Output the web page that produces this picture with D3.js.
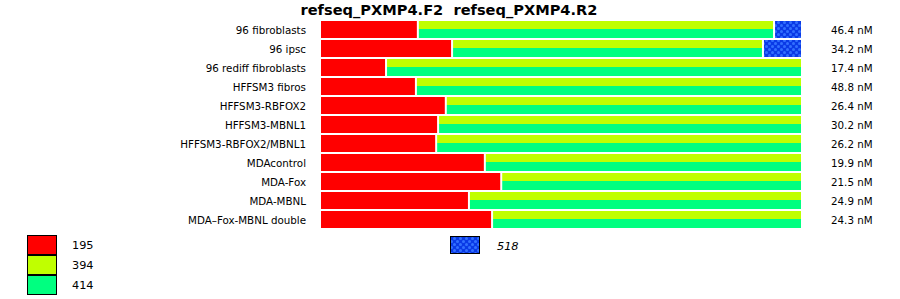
<!DOCTYPE html>
<html><head><meta charset="utf-8">
<script src="https://cdn.jsdelivr.net/npm/d3@7"></script>
<style>body{margin:0;background:#fff}svg{display:block}</style>
</head><body>
<svg id="c" width="900" height="299"></svg>
<script>
const title = "refseq_PXMP4.F2  refseq_PXMP4.R2";
const samples = ["96 fibroblasts","96 ipsc","96 rediff fibroblasts","HFFSM3 fibros","HFFSM3-RBFOX2","HFFSM3-MBNL1","HFFSM3-RBFOX2/MBNL1","MDAcontrol","MDA-Fox","MDA-MBNL","MDA\u2013Fox-MBNL double"];
// percentage of each product size per sample
const pct195 = [20.3,27.4,13.7,19.9,26.1,24.5,24.1,34.2,37.6,30.9,35.7];
const pct394_414 = [73.9,64.5,86.3,80.1,73.9,75.5,75.9,65.8,62.4,69.1,64.3];
const pct518 = [5.8,8.1,0,0,0,0,0,0,0,0,0];
const concentrations = ["46.4 nM","34.2 nM","17.4 nM","48.8 nM","26.4 nM","30.2 nM","26.2 nM","19.9 nM","21.5 nM","24.9 nM","24.3 nM"];
const legendLabels = ["195","394","414"];
const extraLabel = "518";

const svg = d3.select("#c");
const font = "DejaVu Sans, sans-serif";
const defs = svg.append("defs");
const pat = defs.append("pattern").attr("id","blue").attr("patternUnits","userSpaceOnUse")
  .attr("width",6).attr("height",6);
pat.append("rect").attr("width",6).attr("height",6).attr("fill","#0a3ae6");
pat.append("circle").attr("cx",1.5).attr("cy",1.5).attr("r",1.5).attr("fill","#3270ff");
pat.append("circle").attr("cx",4.5).attr("cy",4.5).attr("r",1.5).attr("fill","#3270ff");

svg.append("text").attr("x",449).attr("y",15).attr("text-anchor","middle")
  .style("white-space","pre")
  .attr("font-family",font).attr("font-weight","bold").attr("font-size",14.6).text(title);

const x = d3.scaleLinear().domain([0,100]).range([321,803]);
const y = d3.scaleBand().domain(samples).range([21,228]).paddingInner(2/19).paddingOuter(0);
const bh = y.bandwidth();

samples.forEach((s,i)=>{
  const g = svg.append("g");
  const top = Math.round(y(s));
  const a = pct195[i], b = pct394_414[i], c = pct518[i];
  g.append("rect").attr("x",x(0)).attr("y",top).attr("width",x(a)-x(0)-2).attr("height",bh).attr("fill","#ff0000");
  const gx = x(a), gw = x(a+b)-x(a)-2;
  g.append("rect").attr("x",gx).attr("y",top).attr("width",gw).attr("height",8).attr("fill","#c0ff00");
  g.append("rect").attr("x",gx).attr("y",top+8).attr("width",gw).attr("height",bh-8).attr("fill","#00ff80");
  if (c>0) g.append("rect").attr("x",x(a+b)).attr("y",top).attr("width",x(a+b+c)-x(a+b)-2).attr("height",bh).attr("fill","url(#blue)");
  svg.append("text").attr("x",306).attr("y",top+13).attr("text-anchor","end")
    .attr("font-family",font).attr("font-size",10.3).text(s);
  svg.append("text").attr("x",831).attr("y",top+13)
    .attr("font-family",font).attr("font-size",10.3).text(concentrations[i]);
});

const lcol = ["#ff0000","#c0ff00","#00ff80"];
legendLabels.forEach((l,i)=>{
  svg.append("rect").attr("x",27.5).attr("y",235.5+20*i).attr("width",29).attr("height",19)
    .attr("fill",lcol[i]).attr("stroke","#000").attr("stroke-width",1);
  svg.append("text").attr("x",72).attr("y",249+20*i).attr("font-family",font).attr("font-size",11.3).text(l);
});
svg.append("rect").attr("x",450.5).attr("y",236.5).attr("width",29).attr("height",17)
  .attr("fill","url(#blue)").attr("stroke","#000").attr("stroke-width",1);
svg.append("text").attr("x",497).attr("y",250).attr("font-family",font).attr("font-style","italic")
  .attr("font-size",11.3).text(extraLabel);
</script>
</body></html>
